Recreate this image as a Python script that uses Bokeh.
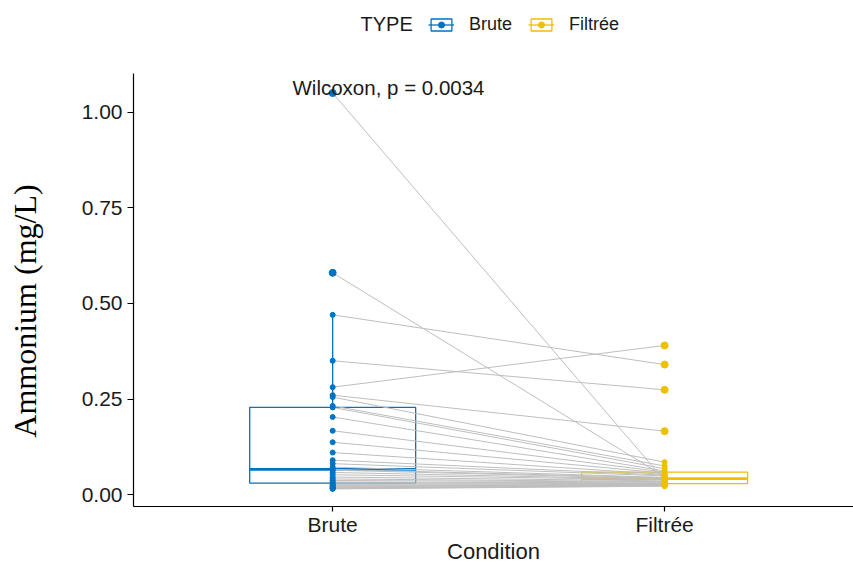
import math
import numpy as np
from bokeh.plotting import figure
from bokeh.layouts import column, row
from bokeh.models import (Range1d, FixedTicker, PrintfTickFormatter, Legend,
                          LegendItem, Label)
from bokeh.core.properties import value
from bokeh.embed import file_html
from bokeh.resources import INLINE

# ---------------- data ----------------
categories = ["Brute", "Filtrée"]
colors = ["#0073C2", "#EFC000"]
# paired values (same index = same sample)
brute = [1.05, 0.58, 0.47, 0.35, 0.281, 0.26, 0.255, 0.232, 0.228, 0.203,
         0.167, 0.137, 0.11, 0.09, 0.081, 0.072, 0.066, 0.064, 0.058, 0.052,
         0.046, 0.041, 0.037, 0.033, 0.03, 0.027, 0.024, 0.022, 0.02, 0.018,
         0.017, 0.016, 0.015]
filtree = [0.037, 0.047, 0.34, 0.274, 0.39, 0.166, 0.085, 0.075, 0.068, 0.062,
           0.059, 0.056, 0.053, 0.051, 0.049, 0.045, 0.044, 0.042, 0.04, 0.039,
           0.036, 0.034, 0.033, 0.031, 0.029, 0.028, 0.027, 0.026, 0.026, 0.025,
           0.024, 0.023, 0.022]
y_ticks = [0.0, 0.25, 0.50, 0.75, 1.00]
test_label = "Wilcoxon, p = 0.0034"
legend_title = "TYPE"
x_title = "Condition"
y_title = "Ammonium (mg/L)"

series = [brute, filtree]
xpos = [i + 1 for i in range(len(categories))]

SANS = "Liberation Sans"
SERIF = "Liberation Serif"
TXT = "#1a1a1a"
W, H, TOP_H, YLAB_W = 853, 567, 73, 70


def blank_fig(w, h, xr, yr):
    f = figure(width=w, height=h, output_backend="svg", toolbar_location=None,
               x_range=Range1d(*xr), y_range=Range1d(*yr),
               x_axis_location=None, y_axis_location=None, min_border=0,
               background_fill_color="white", border_fill_color="white")
    f.xgrid.visible = False
    f.ygrid.visible = False
    f.outline_line_color = None
    return f


# ---------------- main panel ----------------
p = figure(width=W - YLAB_W, height=H - TOP_H, output_backend="svg",
           toolbar_location=None,
           x_range=Range1d(0.4, 2.569), y_range=Range1d(-0.031, 1.101),
           min_border_left=133 - YLAB_W, min_border_right=0, min_border_top=0,
           min_border_bottom=61, background_fill_color="white",
           border_fill_color="white")
p.xgrid.visible = False
p.ygrid.visible = False
p.outline_line_color = None


def box_stats(v):
    v = np.asarray(v, dtype=float)
    q1, med, q3 = np.percentile(v, [25, 50, 75])
    iqr = q3 - q1
    lo = v[v >= q1 - 1.5 * iqr].min()
    hi = v[v <= q3 + 1.5 * iqr].max()
    out = v[(v < q1 - 1.5 * iqr) | (v > q3 + 1.5 * iqr)]
    return q1, med, q3, lo, hi, out


box_w = 0.25
stats = []
for i, (cat, vals, col) in enumerate(zip(categories, series, colors)):
    x = xpos[i]
    q1, med, q3, lo, hi, out = box_stats(vals)
    stats.append(out)
    p.segment(x0=[x, x], y0=[q3, q1], x1=[x, x], y1=[hi, lo], line_color=col,
              line_width=1.3)
    p.quad(left=[x - box_w], right=[x + box_w], bottom=[q1], top=[q3],
           fill_color="white", line_color=col, line_width=1.3)
    p.segment(x0=[x - box_w], y0=[med], x1=[x + box_w], y1=[med],
              line_color=col, line_width=2.6)

# paired lines
p.segment(x0=[xpos[0]] * len(brute), y0=brute, x1=[xpos[1]] * len(filtree),
          y1=filtree, line_color="#BEBEBE", line_width=1)

for i, (vals, col) in enumerate(zip(series, colors)):
    x = xpos[i]
    out = stats[i]
    p.scatter(x=[x] * len(out), y=list(out), size=7, color=col)
    p.scatter(x=[x] * len(vals), y=vals, size=5, color=col)

p.add_layout(Label(x=0.879, y=1.064, text=test_label, text_font=SANS,
                   text_font_size="20.5px", text_align="left",
                   text_baseline="middle", text_color=TXT))

for ax in (p.xaxis[0], p.yaxis[0]):
    ax.axis_line_color = "black"
    ax.axis_line_width = 1.2
    ax.major_tick_line_color = "black"
    ax.major_tick_line_width = 1.2
    ax.major_tick_in = 0
    ax.major_tick_out = 6
    ax.minor_tick_line_color = None
    ax.major_label_standoff = 5
    ax.major_label_text_font = SANS
    ax.major_label_text_font_size = "21px"
    ax.major_label_text_color = TXT

p.xaxis.major_tick_out = 5
p.xaxis.major_label_standoff = 1
p.xaxis.ticker = FixedTicker(ticks=xpos)
p.xaxis.major_label_overrides = {x: c for x, c in zip(xpos, categories)}
p.xaxis.axis_label = x_title
p.xaxis.axis_label_text_font = SANS
p.xaxis.axis_label_text_font_size = "22px"
p.xaxis.axis_label_text_font_style = "normal"
p.xaxis.axis_label_text_color = TXT
p.xaxis.axis_label_standoff = 0

p.yaxis.ticker = FixedTicker(ticks=y_ticks)
p.yaxis.formatter = PrintfTickFormatter(format="%.2f")

# ---------------- y-axis title strip ----------------
ylab = blank_fig(YLAB_W, H - TOP_H, (0, YLAB_W), (0, H - TOP_H))
ylab.text(x=[24], y=[223], text=[y_title], angle=math.pi / 2,
          text_font=value(SERIF), text_font_size="32px", text_align="center",
          text_baseline="middle", text_color="black")

# ---------------- legend strip ----------------
top = blank_fig(W, TOP_H, (0, W), (0, TOP_H))
items = []
for cat, col in zip(categories, colors):
    rb = top.quad(left=[-20], right=[-10], bottom=[-20], top=[-10],
                  fill_color="white", line_color=col, line_width=1.3)
    rm = top.segment(x0=[-20], y0=[-15], x1=[-10], y1=[-15], line_color=col,
                     line_width=1.3)
    rp = top.scatter(x=[-15], y=[-15], size=5, color=col)
    items.append(LegendItem(label=cat, renderers=[rb, rm, rp]))

legend = Legend(items=items, orientation="horizontal", location=(428, 38),
                label_text_font=SANS, label_text_font_size="18px",
                label_text_color=TXT, glyph_width=26, glyph_height=15,
                label_standoff=15, spacing=16, padding=4, margin=0,
                border_line_color=None, background_fill_alpha=0)
top.add_layout(legend)
top.text(x=[360], y=[50], text=[legend_title], text_font=value(SANS),
         text_font_size="20px", text_align="left", text_baseline="middle",
         text_color=TXT)

layout = column(top, row(ylab, p, spacing=0), spacing=0)
open("out.html", "w").write(file_html(layout, INLINE))
